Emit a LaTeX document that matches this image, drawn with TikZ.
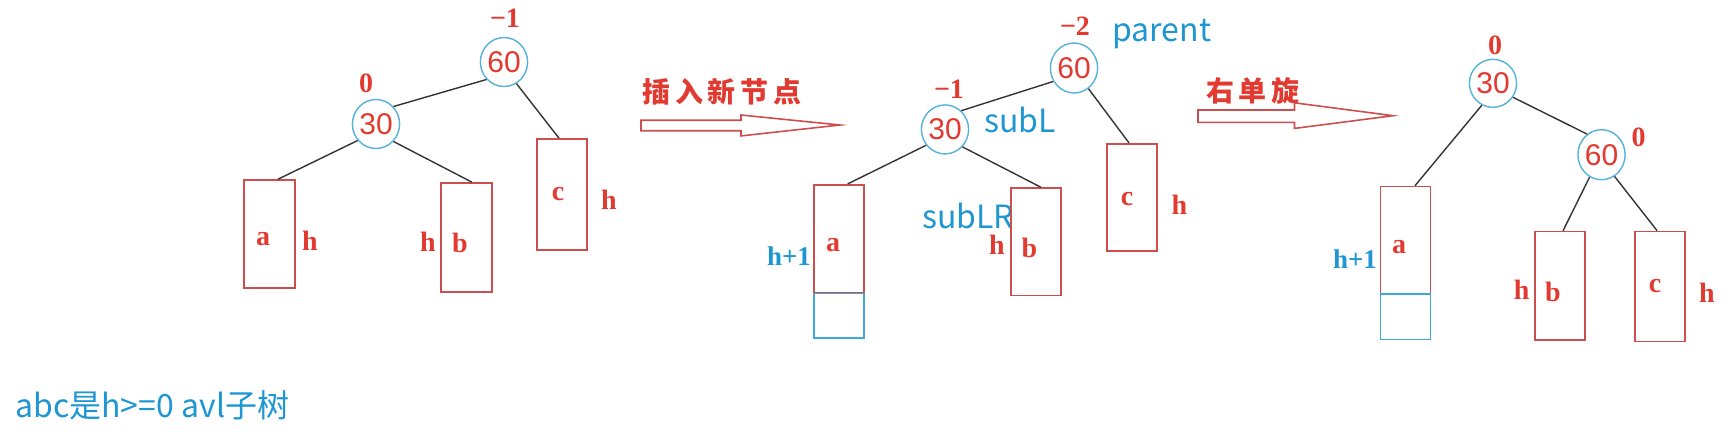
\documentclass[tikz,border=0pt]{standalone}
\usepackage{fontspec}
\setmainfont{Liberation Serif}
\newfontfamily\cjk{Noto Sans CJK SC}
\newfontfamily\numf{Liberation Sans}
\usetikzlibrary{shapes.geometric}
\definecolor{tred}{RGB}{226,58,48}
\definecolor{bred}{RGB}{205,78,78}
\definecolor{cblue}{RGB}{85,178,218}
\definecolor{tblue}{RGB}{30,150,210}
\definecolor{bblue}{RGB}{60,168,220}
\tikzset{
  circ/.style={ellipse, draw=cblue, line width=0.7pt, inner sep=0pt, text=tred,
    font=\numf\fontsize{15}{15}\selectfont},
  tbox/.style={draw=bred, line width=0.8pt, inner sep=0pt},
  nbox/.style={draw=bblue, line width=0.8pt, inner sep=0pt},
  lbl/.style={text=tred, font=\bfseries\fontsize{14}{14}\selectfont, inner sep=0pt},
  bal/.style={text=tred, font=\bfseries\fontsize{14}{14}\selectfont, inner sep=0pt},
  hb/.style={text=tblue, font=\bfseries\fontsize{13.5}{14}\selectfont, inner sep=0pt},
  bl/.style={text=tblue, font=\cjk\fontsize{16}{16}\selectfont, inner sep=0pt},
  zh/.style={text=tred, font=\cjk\bfseries\fontsize{14}{14}\selectfont, inner sep=0pt},
  link/.style={draw=black!80, line width=0.7pt},
  harrow/.style={draw=bred, line width=0.8pt}
}
\begin{document}
\begin{tikzpicture}[x=0.5pt,y=-0.5pt]
\useasboundingbox (0,0) rectangle (1724,436);

% ---------- tree 1 ----------
\node[circ, minimum width=22pt, minimum height=24.5pt] (t1r) at (504,62) {60};
\node[circ, minimum width=22pt, minimum height=24.5pt] (t1l) at (376,124) {30};
\node[bal] (t1rb) at (505,18) {−1};
\node[bal] (t1lb) at (366,83) {0};
\node[tbox, minimum width=25.5pt, minimum height=54pt] (t1a) at (269.5,234) {};
\node[tbox, minimum width=25.5pt, minimum height=54.5pt] (t1b) at (466.5,237.5) {};
\node[tbox, minimum width=25pt, minimum height=55.5pt] (t1c) at (562,194.5) {};
\node[lbl] (t1al) at (263,239) {a};
\node[lbl] (t1ah) at (310,241) {h};
\node[lbl] (t1bh) at (428,242) {h};
\node[lbl] (t1bl) at (460,243) {b};
\node[lbl] (t1cl) at (558,194) {c};
\node[lbl] (t1ch) at (609,200) {h};
\draw[link] (t1r.225) -- (t1l.45);
\draw[link] (t1l.222) -- ([xshift=4.25pt]t1a.north);
\draw[link] (t1l.315) -- ([xshift=2.75pt]t1b.north);
\draw[link] (t1r.300) -- ([xshift=-1.5pt]t1c.north);

% ---------- arrow 1 ----------
\node[zh] (ins) at (722,91.5) {插\,入\,新\,节\,点};
\draw[harrow] (641,120.2) -- (741,120.2) -- (741,115) -- (840,125) -- (741,135.9) -- (741,130.7) -- (641,130.7) -- cycle;

% ---------- tree 2 ----------
\node[circ, minimum width=22pt, minimum height=25pt] (t2r) at (1074,68) {60};
\node[circ, minimum width=22pt, minimum height=24.5pt] (t2l) at (945,129.4) {30};
\node[bal] (t2rb) at (1075,26) {−2};
\node[bal] (t2lb) at (949,89) {−1};
\node[bl, anchor=base west] (par) at (1112,41.8) {parent};
\node[bl, anchor=base west] (subl) at (984,132.4) {subL};
\node[bl, anchor=base west] (sublr) at (922,228) {subLR};
\node[tbox, minimum width=25pt, minimum height=54pt] (t2a) at (839,238.7) {};
\node[nbox, minimum width=25pt, minimum height=22.2pt] (t2n) at (839,315.8) {};
\node[tbox, minimum width=25pt, minimum height=53.6pt] (t2b) at (1036,241.7) {};
\node[tbox, minimum width=25pt, minimum height=53.6pt] (t2c) at (1132,197.3) {};
\node[lbl] (t2al) at (833,244.8) {a};
\node[hb] (t2ah) at (789,256) {h+1};
\node[lbl] (t2bh) at (997,244.8) {h};
\node[lbl] (t2bl) at (1029.5,248.3) {b};
\node[lbl] (t2cl) at (1127,199.5) {c};
\node[lbl] (t2ch) at (1179.5,204.7) {h};
\draw[link] (t2r.213) -- (t2l.49.5);
\draw[link] (t2r.305) -- ([xshift=-1.5pt]t2c.north);
\draw[link] (t2l.220.6) -- ([xshift=4.35pt]t2a.north);
\draw[link] (t2l.315) -- ([xshift=2.5pt]t2b.north);

% ---------- arrow 2 ----------
\node[zh] (rot) at (1253,90.8) {右\,单\,旋};
\draw[harrow] (1198,110) -- (1294.5,110) -- (1294.5,102.8) -- (1393,115.7) -- (1294.5,128.4) -- (1294.5,122.3) -- (1198,122.3) -- cycle;

% ---------- tree 3 ----------
\node[circ, minimum width=23pt, minimum height=24pt] (t3t) at (1493,83.3) {30};
\node[circ, minimum width=23pt, minimum height=25pt] (t3m) at (1601.5,154.7) {60};
\node[bal] (t3tb) at (1495,45.2) {0};
\node[bal] (t3mb) at (1638.6,137.4) {0};
\node[tbox, minimum width=25pt, minimum height=53.8pt] (t3a) at (1405.5,240.3) {};
\node[nbox, minimum width=25pt, minimum height=22.6pt] (t3n) at (1405.5,316.8) {};
\node[tbox, minimum width=25.25pt, minimum height=54.3pt] (t3b) at (1560,285.9) {};
\node[tbox, minimum width=25pt, minimum height=55pt] (t3c) at (1660,286.4) {};
\node[lbl] (t3al) at (1399,247) {a};
\node[hb] (t3ah) at (1355,259.5) {h+1};
\node[lbl] (t3bh) at (1521.7,289.3) {h};
\node[lbl] (t3bl) at (1553,291.7) {b};
\node[lbl] (t3cl) at (1655,286) {c};
\node[lbl] (t3ch) at (1707,293) {h};
\draw[link] (t3t.325) -- (t3m.125);
\draw[link] (t3t.243) -- ([xshift=4.75pt]t3a.north);
\draw[link] (t3m.242) -- ([xshift=1.5pt]t3b.north);
\draw[link] (t3m.301) -- ([xshift=-1.5pt]t3c.north);

% ---------- note ----------
\node[bl, anchor=west] (note) at (15,405) {abc是h>=0 avl子树};
\end{tikzpicture}
\end{document}
